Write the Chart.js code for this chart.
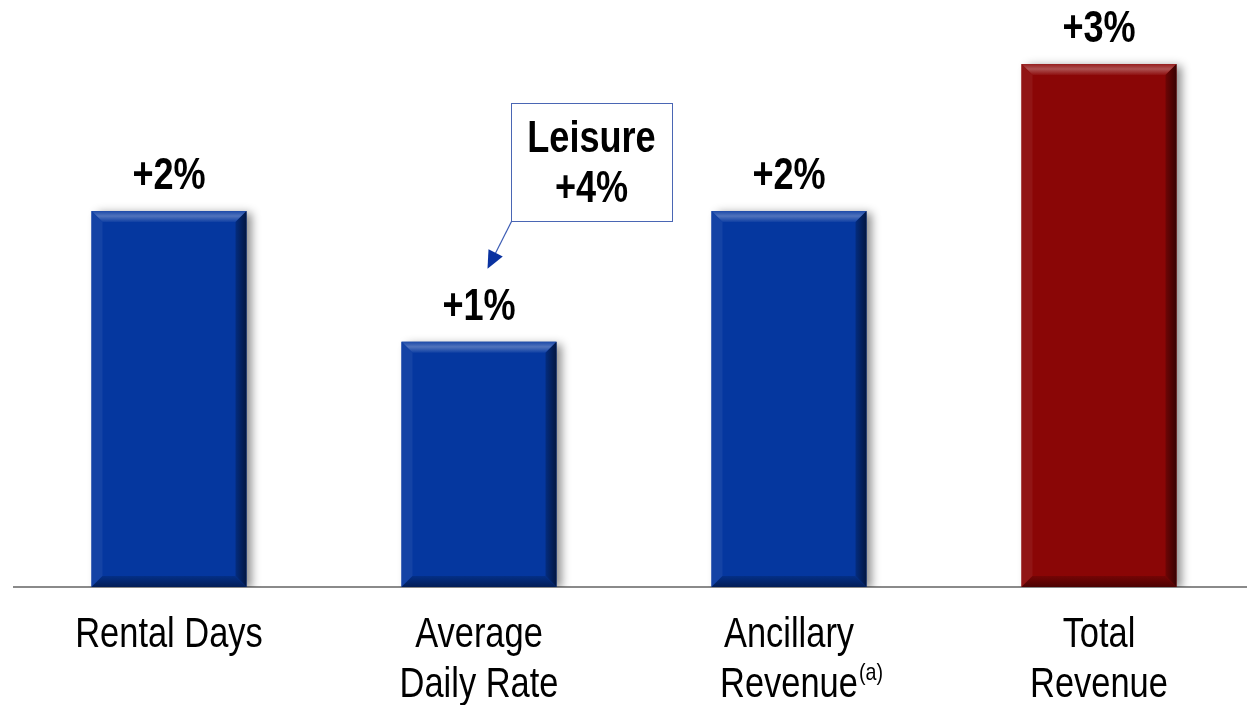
<!DOCTYPE html>
<html>
<head>
<meta charset="utf-8">
<script src="https://cdn.jsdelivr.net/npm/chart.js@4.4.1/dist/chart.umd.min.js"></script>
<style>
  html, body { margin: 0; padding: 0; background: #fff; overflow: hidden; }
  #wrap { width: 1254px; height: 705px; }
</style>
</head>
<body>
<div id="wrap"><canvas id="c"></canvas></div>
<script>
const categories = [['Rental Days'], ['Average', 'Daily Rate'], ['Ancillary', 'Revenue'], ['Total', 'Revenue']];
const footnotes = ['', '', '(a)', ''];
const growth = [2.3, 1.5, 2.3, 3.2];
const growthLabels = ['+2%', '+1%', '+2%', '+3%'];
const barColors = ['#05379f', '#05379f', '#05379f', '#8a0606'];
const callout = ['Leisure', '+4%'];

// Arial Narrow look: Liberation Sans squeezed horizontally
const FONT = "'Liberation Sans', Arial, sans-serif";
const NARROW = 0.82;

function narrowText(ctx, text, x, y, size, bold, align) {
    ctx.save();
    ctx.font = (bold ? 'bold ' : '') + size + 'px ' + FONT;
    ctx.textAlign = align || 'center';
    ctx.textBaseline = 'alphabetic';
    ctx.fillStyle = '#000';
    ctx.translate(x, y);
    ctx.scale(NARROW, 1);
    ctx.fillText(text, 0, 0);
    const w = ctx.measureText(text).width * NARROW;
    ctx.restore();
    return w;
}

function shade(hex, amt) {
    const n = parseInt(hex.slice(1), 16);
    let r = (n >> 16) & 255, g = (n >> 8) & 255, b = n & 255;
    const f = v => Math.max(0, Math.min(255, Math.round(amt > 0 ? v + (255 - v) * amt : v * (1 + amt))));
    return 'rgb(' + f(r) + ',' + f(g) + ',' + f(b) + ')';
}

// soft shadow behind bars
const shadowPlugin = {
    id: 'shadow',
    beforeDatasetDraw(chart) {
        const ctx = chart.ctx;
        ctx.save();
        ctx.shadowColor = 'rgba(0,0,0,0.45)';
        ctx.shadowBlur = 9;
        ctx.shadowOffsetX = 5;
        ctx.shadowOffsetY = 2;
    },
    afterDatasetDraw(chart) {
        chart.ctx.restore();
    }
};

// bevel edges, value labels, callout, category labels
const decorPlugin = {
    id: 'decor',
    afterDatasetsDraw(chart) {
        const ctx = chart.ctx;
        const bars = chart.getDatasetMeta(0).data;
        bars.forEach((bar, i) => {
            const p = bar.getProps(['x', 'y', 'base', 'width'], true);
            const l = p.x - p.width / 2, r = p.x + p.width / 2, t = p.y, b = p.base;
            const s = 11;
            const base = barColors[i];
            ctx.save();
            // top
            let g = ctx.createLinearGradient(0, t, 0, t + s);
            g.addColorStop(0, shade(base, 0.1));
            g.addColorStop(0.45, shade(base, 0.3));
            g.addColorStop(1, shade(base, 0.04));
            ctx.fillStyle = g;
            ctx.beginPath();
            ctx.moveTo(l, t); ctx.lineTo(r, t); ctx.lineTo(r - s, t + s); ctx.lineTo(l + s, t + s); ctx.closePath();
            ctx.fill();
            // left
            ctx.fillStyle = shade(base, 0.06);
            ctx.beginPath();
            ctx.moveTo(l, t); ctx.lineTo(l + s, t + s); ctx.lineTo(l + s, b - s); ctx.lineTo(l, b); ctx.closePath();
            ctx.fill();
            // right
            g = ctx.createLinearGradient(r - s, 0, r, 0);
            g.addColorStop(0, shade(base, -0.2));
            g.addColorStop(1, shade(base, -0.6));
            ctx.fillStyle = g;
            ctx.beginPath();
            ctx.moveTo(r, t); ctx.lineTo(r, b); ctx.lineTo(r - s, b - s); ctx.lineTo(r - s, t + s); ctx.closePath();
            ctx.fill();
            // bottom
            g = ctx.createLinearGradient(0, b - s, 0, b);
            g.addColorStop(0, shade(base, -0.15));
            g.addColorStop(1, shade(base, -0.45));
            ctx.fillStyle = g;
            ctx.beginPath();
            ctx.moveTo(l, b); ctx.lineTo(r, b); ctx.lineTo(r - s, b - s); ctx.lineTo(l + s, b - s); ctx.closePath();
            ctx.fill();
            ctx.restore();

            // value label
            narrowText(ctx, growthLabels[i], p.x, t - 22, 44, true);
        });

        // callout for ADR bar
        const adr = bars[1].getProps(['x', 'y'], true);
        const bx = Math.round(adr.x + 32), by = Math.round(adr.y - 239), bw = 161, bh = 118;
        ctx.save();
        ctx.fillStyle = '#fff';
        ctx.fillRect(bx, by, bw, bh);
        ctx.strokeStyle = '#4a66b4';
        ctx.lineWidth = 1;
        ctx.strokeRect(bx + 0.5, by + 0.5, bw, bh);
        // arrow
        const sx = bx + 0.5, sy = by + bh + 0.5, tx = adr.x + 8.5, ty = adr.y - 73;
        const ang = Math.atan2(ty - sy, tx - sx);
        const c = Math.cos(ang), sn = Math.sin(ang);
        ctx.strokeStyle = '#3c5cb4';
        ctx.lineWidth = 1.2;
        ctx.beginPath();
        ctx.moveTo(sx, sy);
        ctx.lineTo(tx - 12 * c, ty - 12 * sn);
        ctx.stroke();
        ctx.fillStyle = '#0a32a0';
        ctx.beginPath();
        ctx.moveTo(tx, ty);
        ctx.lineTo(tx - 18 * c + 8 * sn, ty - 18 * sn - 8 * c);
        ctx.lineTo(tx - 18 * c - 8 * sn, ty - 18 * sn + 8 * c);
        ctx.closePath();
        ctx.fill();
        ctx.restore();
        narrowText(ctx, callout[0], bx + bw / 2, by + 49, 44, true);
        narrowText(ctx, callout[1], bx + bw / 2, by + 99, 44, true);
    },
    afterDraw(chart) {
        // category labels under the axis, at the x scale's positions
        const ctx = chart.ctx;
        const xs = chart.scales.x;
        const y0 = chart.chartArea.bottom;
        categories.forEach((lines, i) => {
            const cx = xs.getPixelForValue(i);
            lines.forEach((txt, k) => {
                const y = y0 + 60 + k * 50;
                const w = narrowText(ctx, txt, cx, y, 42, false);
                if (k === lines.length - 1 && footnotes[i]) {
                    narrowText(ctx, footnotes[i], cx + w / 2 + 1, y - 17, 24, false, 'left');
                }
            });
        });
    }
};

new Chart(document.getElementById('c'), {
    type: 'bar',
    data: {
        labels: categories,
        datasets: [{
            data: growth,
            backgroundColor: barColors,
            borderWidth: 0,
            barPercentage: 0.5,
            categoryPercentage: 1
        }]
    },
    options: {
        responsive: true,
        maintainAspectRatio: false,
        animation: false,
        layout: { padding: { left: 14, right: 0, top: 15, bottom: 118 } },
        plugins: { legend: { display: false }, tooltip: { enabled: false } },
        scales: {
            x: {
                grid: { display: false, drawTicks: false },
                border: { display: true, color: '#8a8a8a', width: 2 },
                ticks: { display: false }
            },
            y: {
                display: false,
                min: 0,
                max: 3.5
            }
        }
    },
    plugins: [shadowPlugin, decorPlugin]
});
</script>
</body>
</html>
